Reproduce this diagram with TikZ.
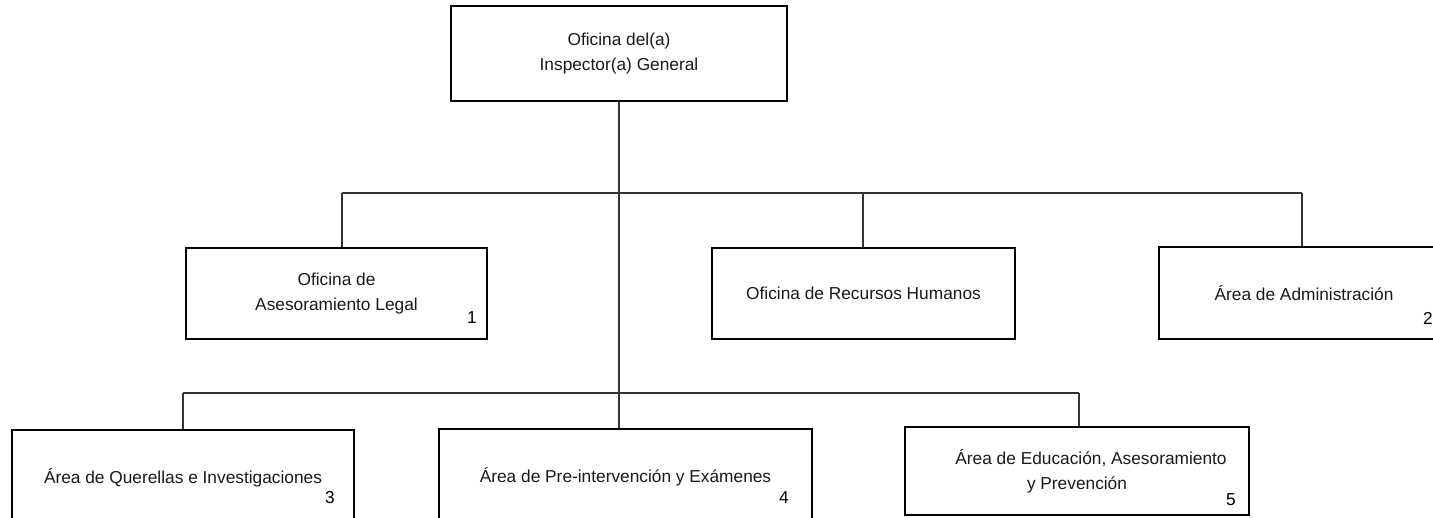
\documentclass[tikz,border=0pt]{standalone}
\usepackage{fontspec}
\setmainfont{Liberation Sans}
\usetikzlibrary{calc}
\tikzset{
  orgbox/.style={draw=black, line width=2.4pt, rectangle, align=center, inner sep=0pt,
    font=\fontsize{17.3}{25}\selectfont, text=black!90},
  numlabel/.style={inner sep=0pt, font=\fontsize{17.3}{20}\selectfont, text=black},
  conn/.style={draw=black!80, line width=1.1pt},
}
\begin{document}
\begin{tikzpicture}[x=1pt,y=-1pt]
\useasboundingbox (0,0) rectangle (1433,517);
% top
\node[orgbox, minimum width=336pt, minimum height=95pt] (top) at (619,53.5) {Oficina del(a)\\Inspector(a) General};
% middle row
\node[orgbox, minimum width=301pt, minimum height=91pt] (b1) at (336.5,293.5) {Oficina de\\Asesoramiento Legal};
\node[orgbox, minimum width=303pt, minimum height=91pt] (b2) at (863.5,293.5) {Oficina de Recursos Humanos};
\node[orgbox, minimum width=290pt, minimum height=92pt] (b3) at (1304,293) {Área de Administración};
% bottom row
\node[orgbox, minimum width=342pt, minimum height=95pt] (b4) at (183,477.5) {Área de Querellas e Investigaciones};
\node[orgbox, minimum width=373pt, minimum height=96pt] (b5) at (625.5,477) {Área de Pre-intervención y Exámenes};
\node[orgbox, minimum width=344pt, minimum height=88pt] (b6) at (1077,471) {\hspace*{28pt}Área de Educación, Asesoramiento\\y Prevención};
% numbers
\node[numlabel] (n1) at (472,318) {1};
\node[numlabel] (n2) at (1428,318) {2};
\node[numlabel] (n3) at (330,498) {3};
\node[numlabel] (n4) at (784,498) {4};
\node[numlabel] (n5) at (1231,500) {5};
% bus coordinates
\coordinate (ua) at (342,193);
\coordinate (ub) at (863,193);
\coordinate (uc) at (1302,193);
\coordinate (la) at (183,393);
\coordinate (lb) at (619,393);
\coordinate (lc) at (1079,393);
% connectors
\draw[conn] (top.south) -- (top.south |- b5.north);
\draw[conn] (ua) -- (uc);
\draw[conn] (ua) -- (ua |- b1.north);
\draw[conn] (ub) -- (ub |- b2.north);
\draw[conn] (uc) -- (uc |- b3.north);
\draw[conn] (la) -- (lc);
\draw[conn] (la) -- (la |- b4.north);
\draw[conn] (lc) -- (lc |- b6.north);
\end{tikzpicture}
\end{document}
